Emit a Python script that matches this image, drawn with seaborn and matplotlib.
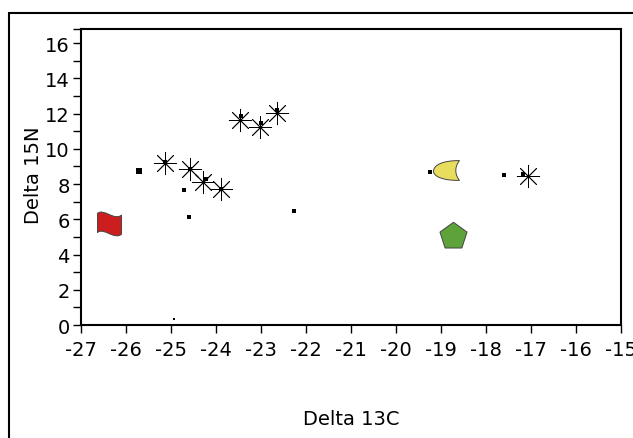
import numpy as np
import pandas as pd
import matplotlib
matplotlib.use("Agg")
import matplotlib.pyplot as plt
from matplotlib.path import Path
from matplotlib.patches import Rectangle
from matplotlib.ticker import FixedLocator
import seaborn as sns

# ---- data ----
star_x = [-25.14, -24.58, -24.30, -23.89, -23.46, -23.03, -22.64, -17.07]
star_y = [9.21, 8.83, 8.11, 7.73, 11.65, 11.26, 12.06, 8.45]

stardot_x = [-25.14, -24.58, -24.23, -23.89, -23.44, -23.01, -22.65, -17.18]
stardot_y = [9.27, 8.87, 8.30, 7.70, 11.84, 11.44, 12.19, 8.59]

dot_x = [-24.72, -24.60, -22.26, -19.25, -17.60]
dot_y = [7.64, 6.11, 6.49, 8.68, 8.49]

bigdot_x = [-25.71]
bigdot_y = [8.74]

tinydot_x = [-24.93]
tinydot_y = [0.34]

flag_x, flag_y = [-26.38], [5.80]
moon_x, moon_y = [-18.88], [8.80]
pent_x, pent_y = [-18.74], [5.05]

xticks = list(range(-27, -14))
yticks = list(range(0, 17, 2))

# ---- custom marker shapes ----
flag_path = Path(
    [(-1, 0.85), (-0.5, 1.3), (0.4, 0.2), (1, 0.7),
     (1, -0.9), (0.4, -1.4), (-0.5, -0.3), (-1, -0.75), (-1, 0.85)],
    [Path.MOVETO, Path.CURVE4, Path.CURVE4, Path.CURVE4,
     Path.LINETO, Path.CURVE4, Path.CURVE4, Path.CURVE4, Path.CLOSEPOLY])

moon_path = Path(
    [(1, 0.76), (-0.3, 0.78), (-1, 0.4), (-1, -0.05),
     (-1, -0.45), (-0.3, -0.78), (1, -0.76),
     (0.62, -0.3), (0.62, 0.3), (1, 0.76), (1, 0.76)],
    [Path.MOVETO, Path.CURVE4, Path.CURVE4, Path.CURVE4,
     Path.CURVE4, Path.CURVE4, Path.CURVE4,
     Path.CURVE4, Path.CURVE4, Path.CURVE4, Path.CLOSEPOLY])

sns.set_style("white")
plt.rcParams['font.family'] = ['DejaVu Sans']
plt.rcParams['axes.unicode_minus'] = False
plt.rcParams['text.color'] = 'black'
plt.rcParams['axes.labelcolor'] = 'black'
plt.rcParams['xtick.color'] = 'black'
plt.rcParams['ytick.color'] = 'black'

fig = plt.figure(figsize=(6.33, 4.39), dpi=100)
ax = fig.add_axes([81 / 633, 1 - 326 / 439, 540 / 633, 296 / 439])

# outer frame
fig.patches.append(Rectangle((9 / 633, -0.1), 1.2, 1 - 14 / 439 + 0.1,
                             transform=fig.transFigure, fill=False,
                             edgecolor='black', linewidth=1.5, zorder=0))

sns.scatterplot(x=star_x, y=star_y, marker=(8, 2, 0), s=260, color='black',
                linewidth=0.6, ax=ax, zorder=3)
sns.scatterplot(x=stardot_x, y=stardot_y, marker='s', s=6, color='black',
                linewidth=0, ax=ax, zorder=4)
sns.scatterplot(x=dot_x, y=dot_y, marker='s', s=9, color='black',
                linewidth=0, ax=ax, zorder=4)
sns.scatterplot(x=bigdot_x, y=bigdot_y, marker='s', s=22, color='black',
                linewidth=0, ax=ax, zorder=4)
sns.scatterplot(x=tinydot_x, y=tinydot_y, marker='s', s=3, color='black',
                linewidth=0, ax=ax, zorder=4)
sns.scatterplot(x=flag_x, y=flag_y, marker=flag_path, s=580, color='#cc1e1e',
                edgecolor='#444444', linewidth=0.7, ax=ax, zorder=3)
sns.scatterplot(x=moon_x, y=moon_y, marker=moon_path, s=350, color='#e9dd5e',
                edgecolor='#444444', linewidth=0.7, ax=ax, zorder=3)
sns.scatterplot(x=pent_x, y=pent_y, marker='p', s=420, color='#5ea23a',
                edgecolor='#444444', linewidth=0.7, ax=ax, zorder=3)

ax.set_xlim(-27, -15)
ax.set_ylim(0, 16.8)
ax.set_xticks(xticks)
ax.set_yticks(yticks)
ax.yaxis.set_minor_locator(FixedLocator(list(range(1, 17, 2)) + [16.8]))
ax.tick_params(axis='both', which='both', direction='out', length=6,
               width=1.0, color='black', labelsize=14, pad=2,
               bottom=True, left=True, top=False, right=False)
ax.tick_params(axis='x', pad=5)
for s in ax.spines.values():
    s.set_color('black')
    s.set_linewidth(1.5)
    s.set_visible(True)

ax.set_xlabel('Delta 13C', fontsize=14)
ax.set_ylabel('Delta 15N', fontsize=14)
ax.xaxis.set_label_coords(0.5, -(410 - 326) / 296)
ax.yaxis.set_label_coords(-(81 - 43) / 540, (326 - 175) / 296)

fig.savefig('out.png', dpi=100)
